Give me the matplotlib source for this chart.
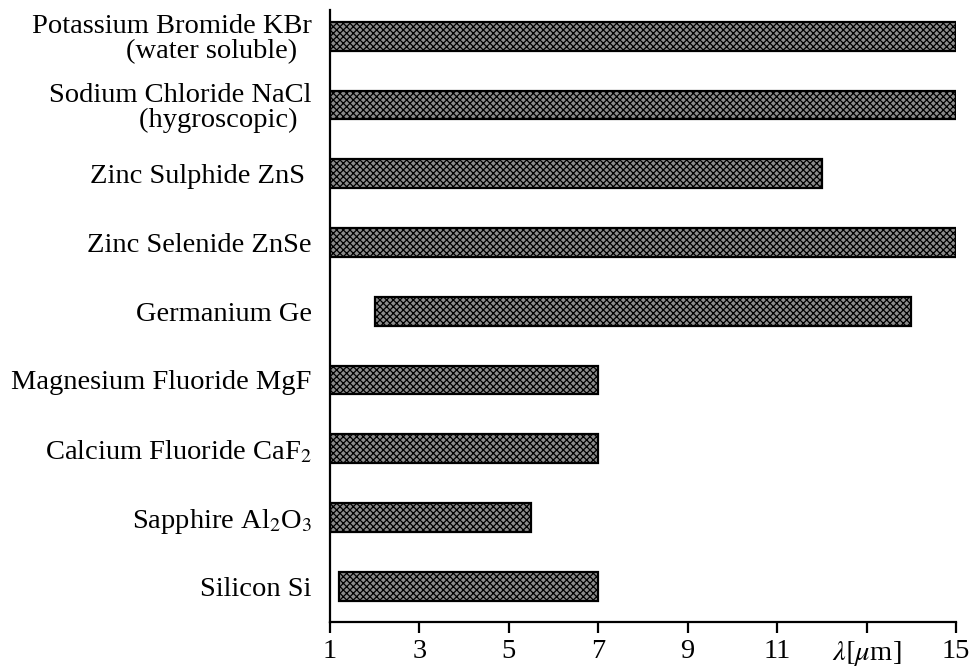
import matplotlib
matplotlib.use('Agg')
import matplotlib.pyplot as plt

plt.rcParams['font.family'] = ['Liberation Serif', 'DejaVu Serif']
plt.rcParams['mathtext.fontset'] = 'stix'
plt.rcParams['hatch.linewidth'] = 0.9
plt.rcParams['hatch.color'] = 'black'

materials = [
    'Silicon Si',
    r'Sapphire Al$_2$O$_3$',
    r'Calcium Fluoride CaF$_2$',
    'Magnesium Fluoride MgF',
    'Germanium Ge',
    'Zinc Selenide ZnSe',
    'Zinc Sulphide ZnS ',
    'Sodium Chloride NaCl\n(hygroscopic)  ',
    'Potassium Bromide KBr\n(water soluble)  ',
]
start_um = [1.2, 1, 1, 1, 2, 1, 1, 1, 1]
end_um = [7, 5.5, 7, 7, 14, 15, 12, 15, 15]

xticks = [1, 3, 5, 7, 9, 11, 13, 15]
xtick_labels = ['1', '3', '5', '7', '9', '11', r'$\lambda[\mu$m]', '15']

fig = plt.figure(figsize=(9.73, 6.70), dpi=100)
ax = fig.add_axes([0.339, 0.0716, 0.6435, 0.9134])

widths = [e - s for s, e in zip(start_um, end_um)]
ax.barh(range(len(materials)), widths, left=start_um, height=0.42,
        color='#8c8c8c', edgecolor='black', linewidth=1.6, hatch='xxxxx')

ax.set_xlim(1, 15)
ax.set_ylim(-0.52, 8.38)
ax.set_xticks(xticks)
ax.set_xticklabels(xtick_labels, fontsize=20.5)
ax.set_yticks(range(len(materials)))
ax.set_yticklabels(materials, fontsize=20.5, multialignment='right', linespacing=1.0)
ax.tick_params(axis='y', length=0, pad=13)
ax.tick_params(axis='x', length=8, width=1.6, pad=4)

for side in ['top', 'right']:
    ax.spines[side].set_visible(False)
for side in ['left', 'bottom']:
    ax.spines[side].set_linewidth(1.6)

fig.savefig('out.png', dpi=100)
